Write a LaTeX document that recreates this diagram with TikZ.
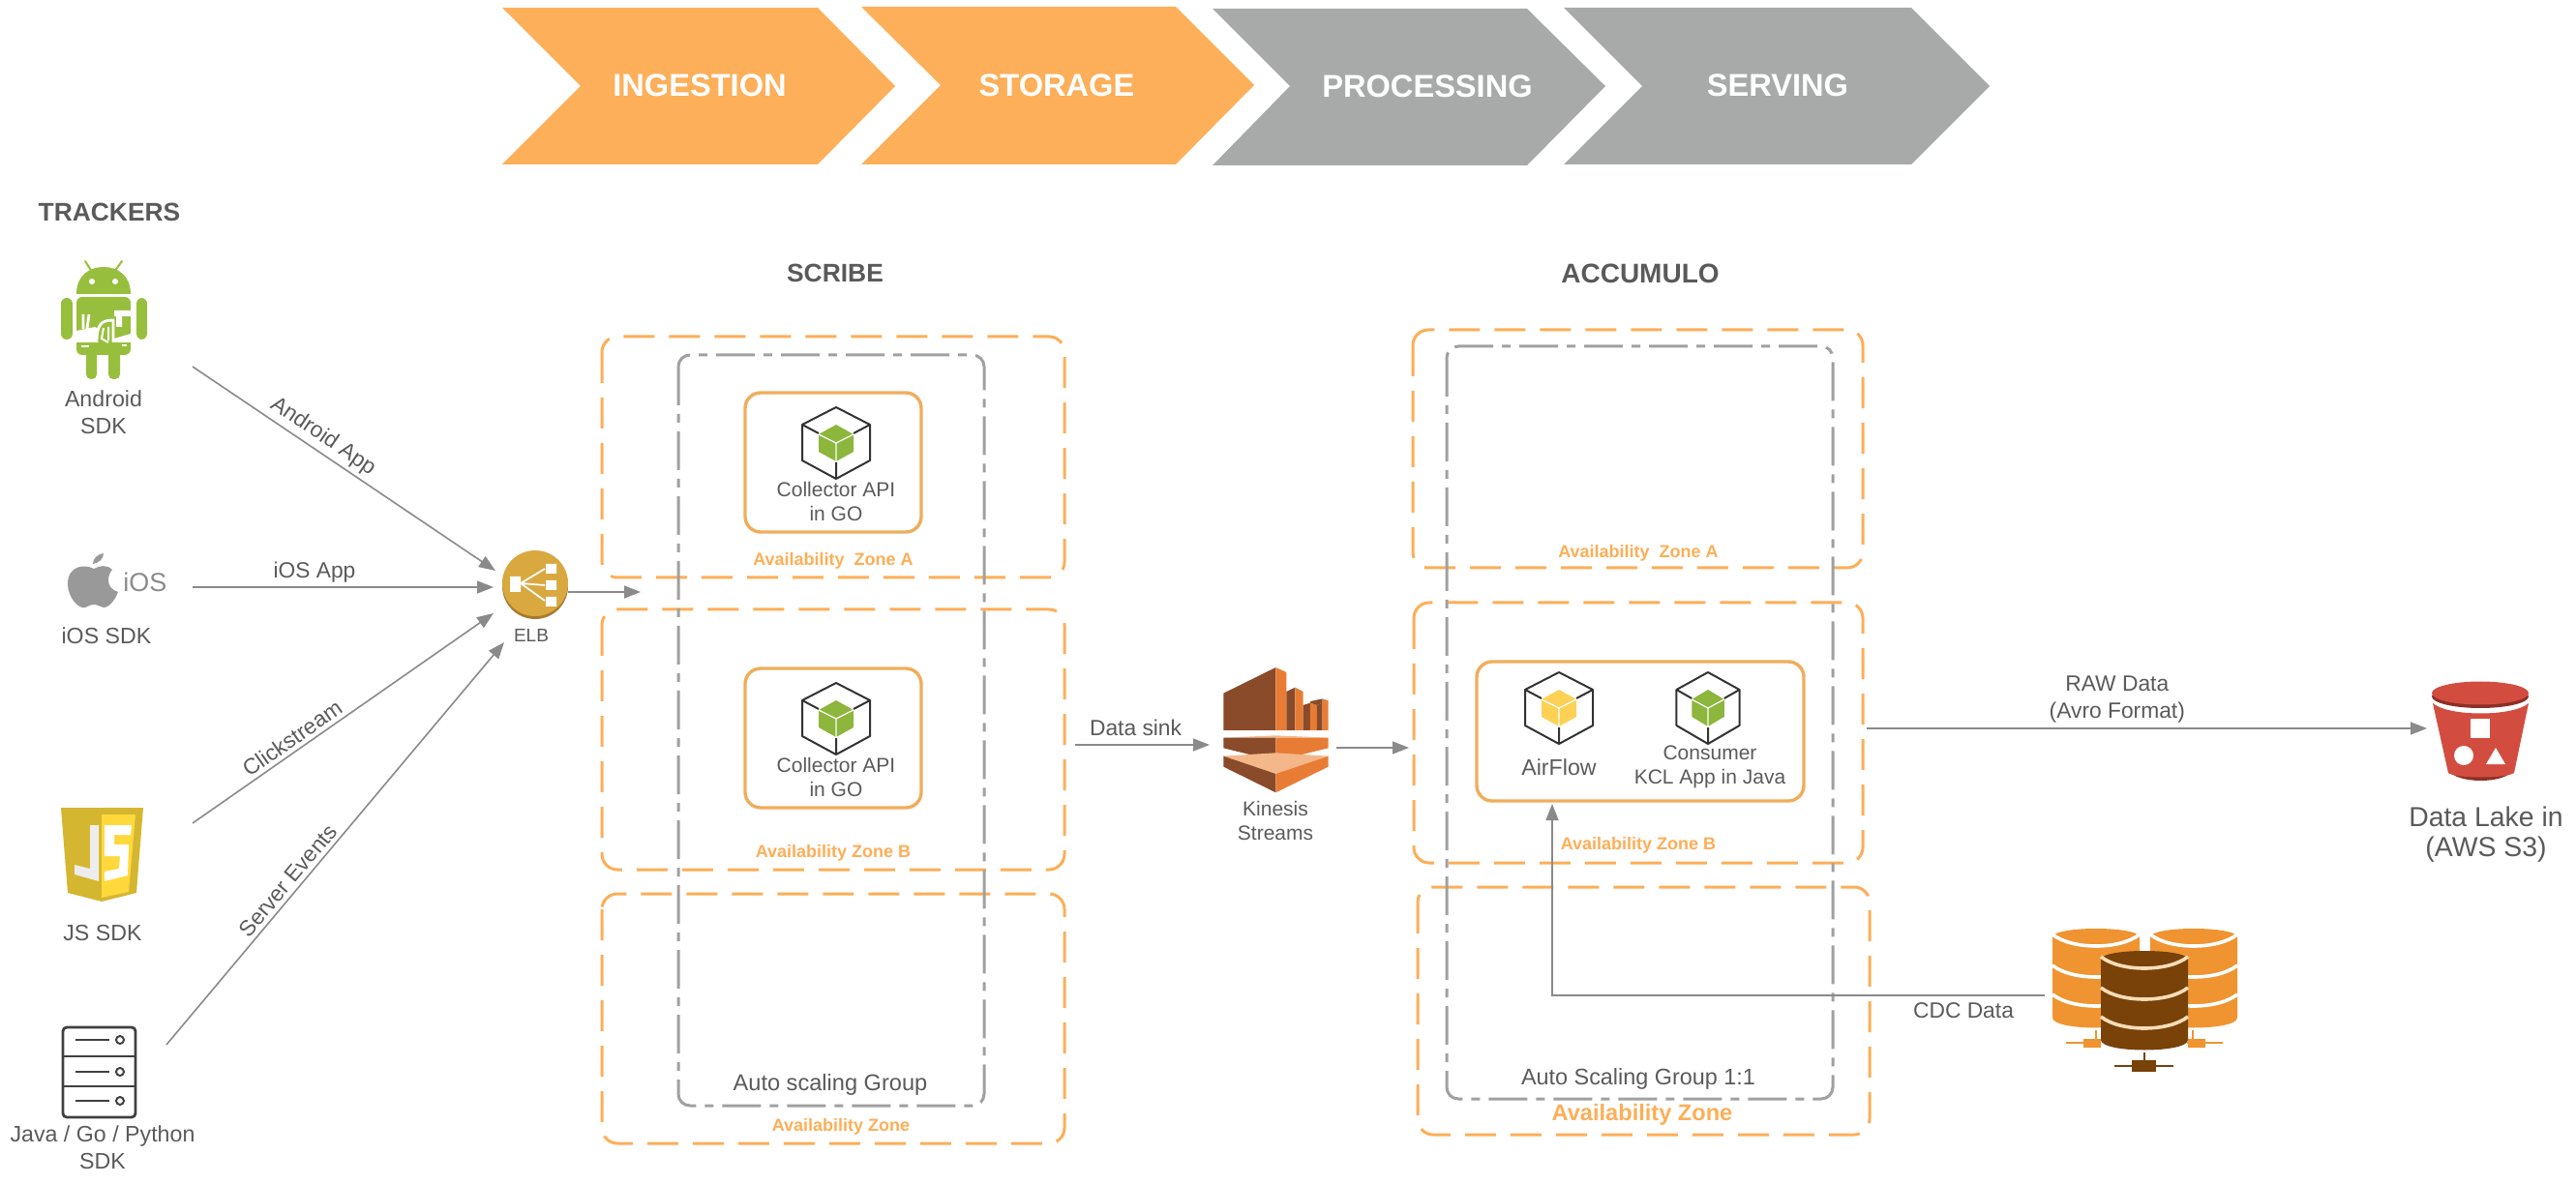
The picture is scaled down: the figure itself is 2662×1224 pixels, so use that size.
\documentclass[tikz,border=0pt]{standalone}
\usepackage{fontspec}
\setmainfont{Liberation Sans}
\usetikzlibrary{arrows.meta}

\definecolor{chevOrange}{HTML}{FDAF5A}
\definecolor{chevGray}{HTML}{A7AAA8}
\definecolor{zoneOrange}{HTML}{FDAE57}
\definecolor{boxOrange}{HTML}{F0AD5C}
\definecolor{groupGray}{HTML}{A0A0A0}
\definecolor{textGray}{HTML}{5A5A5A}
\definecolor{flowGray}{HTML}{8A8A8A}
\definecolor{cubeGreen}{HTML}{8CB63C}
\definecolor{cubeYellow}{HTML}{FDD154}
\definecolor{androidGreen}{HTML}{97BF3D}
\definecolor{jsDark}{HTML}{D5B631}
\definecolor{jsLight}{HTML}{FFD93B}
\definecolor{elbGold}{HTML}{D9A83F}
\definecolor{elbDark}{HTML}{A67A2E}
\definecolor{kinDark}{HTML}{8A4B2A}
\definecolor{kinOrange}{HTML}{E87C35}
\definecolor{kinLight}{HTML}{F4B78A}
\definecolor{bucketRed}{HTML}{D24D3F}
\definecolor{bucketDark}{HTML}{8C3027}
\definecolor{dbOrange}{HTML}{EF9431}
\definecolor{dbBrown}{HTML}{784208}
\definecolor{dbBand}{HTML}{FBDCB8}

\begin{document}
\begin{tikzpicture}[
            x=0.5pt, y=-0.5pt,
            >={Triangle[length=8.5pt,width=6.5pt]},
            flow/.style={draw=flowGray, line width=0.8pt, ->},
            chev orange/.style={fill=chevOrange},
            chev gray/.style={fill=chevGray},
            chev label/.style={text=white, inner sep=0pt, font=\fontsize{16.3}{18}\selectfont\bfseries},
            zone/.style={draw=zoneOrange, line width=1.5pt, rounded corners=8pt, dash pattern=on 16pt off 7.5pt},
            autogroup/.style={draw=groupGray, line width=1.5pt, rounded corners=6pt, dash pattern=on 20pt off 4.5pt on 4.5pt off 4.5pt},
            appbox/.style={draw=boxOrange, line width=1.7pt, rounded corners=8pt},
            title label/.style={text=textGray, inner sep=0pt, font=\fontsize{13.2}{16}\selectfont\bfseries},
            zone label/.style={text=zoneOrange, inner sep=0pt, font=\fontsize{9}{11}\selectfont\bfseries},
            icon label/.style={text=textGray, inner sep=0pt, align=center, font=\fontsize{11.6}{14}\selectfont},
            app label/.style={text=textGray, inner sep=0pt, align=center, font=\fontsize{10.5}{12.5}\selectfont},
            flow label/.style={text=textGray, inner sep=2pt, align=center, font=\fontsize{11.4}{14}\selectfont},
            pics/appcube/.style={code={
                \draw[draw=black!80, line width=1pt, line join=round]
                    (0,-37) -- (35,-19) -- (35,18) -- (0,37) -- (-35,18) -- (-35,-19) -- cycle;
                \draw[draw=black!80, line width=1pt] (-35,-19) -- (-18,-10) (35,-19) -- (18,-10) (0,37) -- (0,20);
                \fill[#1] (0,-19) -- (18,-9) -- (18,9) -- (0,19) -- (-18,9) -- (-18,-9) -- cycle;
                \draw[white, line width=0.6pt] (-18,-9) -- (0,0) -- (18,-9) (0,0) -- (0,19);
            }},
        ]
        \useasboundingbox (0,0) rectangle (2662,1224);

        \fill[chev orange] (519,8) -- (845,8) -- (925,89) -- (845,170) -- (519,170) -- (600,89) -- cycle;
        \fill[chev orange] (890,7) -- (1215,7) -- (1296,88) -- (1215,170) -- (890,170) -- (972,88) -- cycle;
        \fill[chev gray] (1253,9) -- (1578,9) -- (1659,89) -- (1578,171) -- (1253,171) -- (1333,89) -- cycle;
        \fill[chev gray] (1616,8) -- (1975,8) -- (2056,89) -- (1975,170) -- (1616,170) -- (1697,89) -- cycle;
        \node[chev label] (ingestion) at (723,88) {INGESTION};
        \node[chev label] (storage) at (1092,88) {STORAGE};
        \node[chev label] (processing) at (1475,89) {PROCESSING};
        \node[chev label] (serving) at (1837,88) {SERVING};

        \node[title label] (trackers) at (113,219) {TRACKERS};
        \node[title label] (scribe) at (863,282) {SCRIBE};
        \node[title label, font=\fontsize{14}{16}\selectfont\bfseries] (accumulo) at (1695,283) {ACCUMULO};

        \draw[androidGreen, line width=1pt, line cap=round] (88,270) -- (95,281) (126,270) -- (118,281);
        \fill[androidGreen] (79,304) .. controls (79,285) and (92,276) .. (107,276) .. controls (122,276) and (135,285) .. (135,304) -- cycle;
        \fill[white] (95,291) circle (3) (119,291) circle (3);
        \fill[androidGreen, rounded corners=3pt] (79,307) -- (135,307) -- (135,367) -- (79,367) -- cycle;
        \fill[androidGreen, rounded corners=3pt] (63,308) rectangle (75,351);
        \fill[androidGreen, rounded corners=3pt] (141,308) rectangle (152,351);
        \fill[androidGreen, rounded corners=2.5pt] (89,360) rectangle (100,392);
        \fill[androidGreen, rounded corners=2.5pt] (112,360) rectangle (124,392);
        \fill[white] (79,342) -- (98,338) -- (118,350) -- (135,345) -- (135,354) -- (79,354) -- cycle;
        \draw[white, line width=1.4pt] (86,325) -- (86,340) (92,325) -- (90,340);
        \fill[white] (118,321) rectangle (135,327) (120,327) rectangle (126,338);
        \fill[androidGreen] (100,354) .. controls (100,336) and (104,331) .. (117,331) -- (117,354) -- cycle;
        \draw[white, line width=1.4pt] (100,354) .. controls (100,336) and (104,331) .. (117,331) -- (117,354);
        \draw[white, line width=1pt] (107,339) -- (105,350) -- (112,354) (112,338) -- (112,352);
        \draw[white, line width=1pt] (84,358) -- (92,358) (126,357) -- (131,357);
        \node[icon label] (androidSdk) at (107,426) {Android\\SDK};

        \fill[black!40] (96,583) .. controls (96,577) and (101,573) .. (107,572) .. controls (107,578) and (102,582) .. (96,583) -- cycle;
        \fill[black!40] (97,588) .. controls (88,583) and (70,584) .. (70,604) .. controls (70,617) and (81,630) .. (88,628)
            .. controls (91,627) and (93,625) .. (97,625) .. controls (101,625) and (103,627) .. (107,628)
            .. controls (113,628) and (119,620) .. (122,612) .. controls (116,610) and (112,606) .. (112,600)
            .. controls (112,595) and (114,591) .. (116,589) .. controls (110,583) and (103,585) .. (97,588) -- cycle;
        \node[text=black!45, inner sep=0pt, font=\fontsize{13.5}{16}\selectfont] (iosMark) at (150,602) {iOS};
        \node[icon label] (iosSdk) at (110,657) {iOS SDK};

        \fill[jsDark] (63,835) -- (148,835) -- (141,923) -- (105,932) -- (70,923) -- cycle;
        \fill[jsLight] (105,842) -- (140,842) -- (133,922) -- (105,928) -- cycle;
        \fill[black!7] (93,853) -- (102,853) -- (102,911) -- (77,904) -- (77,894) -- (93,898) -- cycle;
        \fill[white] (108,853) -- (136,853) -- (135,863) -- (118,863) -- (118,873) -- (133,873) -- (132,905) -- (108,911) -- (108,901) -- (123,898) -- (124,885) -- (108,885) -- cycle;
        \node[icon label] (jsSdk) at (106,965) {JS SDK};

        \draw[black!75, line width=1.4pt, rounded corners=2pt] (65,1062) rectangle (140,1155);
        \draw[black!75, line width=1.4pt] (65,1092) -- (140,1092) (65,1123) -- (140,1123);
        \foreach \ry in {1075,1108,1138} {
            \draw[black!75, line width=1pt] (78,\ry) -- (113,\ry);
            \draw[black!75, line width=1pt] (124,\ry) circle (4);
        }
        \node[icon label] (serverSdk) at (106,1186) {Java / Go / Python\\SDK};

        \fill[elbDark] (553,606) circle (34);
        \fill[elbGold] (553,603) circle (34);
        \fill[white] (527,596) rectangle (538,612) (564,583) rectangle (575,593) (564,600) rectangle (575,610) (564,617) rectangle (575,627);
        \draw[white, line width=0.9pt] (538,603) -- (563,588) (538,603) -- (563,605) (538,603) -- (563,621);
        \node[text=textGray, inner sep=0pt, font=\fontsize{9.5}{12}\selectfont] (elb) at (549,657) {ELB};

        \draw[zone] (622,348) rectangle (1100,597);
        \draw[zone] (622,630) rectangle (1100,899);
        \draw[zone] (622,924) rectangle (1100,1182);
        \draw[autogroup] (701,367) rectangle (1017,1143);
        \foreach \by in {406,691} {
            \draw[appbox] (770,\by) rectangle ++(182,144);
            \path ({864},{\by+52}) pic {appcube=cubeGreen};
        }
        \node[app label] (collectorA) at (864,518) {Collector API\\in GO};
        \node[app label] (collectorB) at (864,803) {Collector API\\in GO};
        \node[zone label] (scribeZoneA) at (861,580) {Availability\ \ Zone A};
        \node[zone label] (scribeZoneB) at (861,882) {Availability Zone B};
        \node[zone label] (scribeZoneC) at (869,1165) {Availability Zone};
        \node[text=textGray, inner sep=0pt, font=\fontsize{11.8}{14}\selectfont] (scribeGroup) at (858,1121) {Auto scaling Group};

        \begin{scope}[shift={(1180,660)}, scale=0.3333]
            \fill[kinDark] (253,170) -- (415,90) -- (415,285) -- (253,285) -- cycle;
            \fill[kinOrange] (415,90) -- (448,105) -- (448,285) -- (415,285) -- cycle;
            \fill[kinDark] (448,165) -- (475,152) -- (475,285) -- (448,285) -- cycle;
            \fill[kinOrange] (475,152) -- (500,165) -- (500,285) -- (475,285) -- cycle;
            \fill[kinDark] (500,207) -- (522,200) -- (522,285) -- (500,285) -- cycle;
            \fill[kinOrange] (522,200) -- (543,207) -- (543,285) -- (522,285) -- cycle;
            \fill[kinDark] (523,195) -- (560,187) -- (560,200) -- (543,207) -- (522,200) -- cycle;
            \fill[kinDark] (543,207) -- (560,200) -- (560,285) -- (543,285) -- cycle;
            \fill[kinOrange] (560,187) -- (578,193) -- (578,285) -- (560,285) -- cycle;
            \fill[kinLight] (253,308) -- (415,301) -- (578,308) -- cycle;
            \fill[kinDark] (253,308) -- (415,308) -- (415,380) -- (253,340) -- cycle;
            \fill[kinOrange] (578,308) -- (415,308) -- (415,380) -- (578,340) -- cycle;
            \fill[kinLight] (253,365) -- (415,355) -- (578,365) -- (415,420) -- cycle;
            \fill[kinDark] (253,365) -- (415,420) -- (415,478) -- (253,398) -- cycle;
            \fill[kinOrange] (578,365) -- (415,420) -- (415,478) -- (578,398) -- cycle;
        \end{scope}
        \node[app label] (kinesis) at (1318,848) {Kinesis\\Streams};

        \draw[zone] (1460,341) rectangle (1925,587);
        \draw[zone] (1461,623) rectangle (1925,892);
        \draw[zone] (1465,917) rectangle (1932,1173);
        \draw[autogroup] (1495,358) rectangle (1894,1136);
        \draw[appbox] (1526,684) rectangle (1864,828);
        \path (1611,732) pic {appcube=cubeYellow};
        \path (1765,732) pic[xscale=0.93] {appcube=cubeGreen};
        \node[app label] (airflow) at (1611,793) {\fontsize{11.6}{14}\selectfont AirFlow};
        \node[app label] (consumer) at (1767,793) {Consumer\\KCL App in Java};
        \node[zone label] (accumZoneA) at (1693,572) {Availability\ \ Zone A};
        \node[zone label] (accumZoneB) at (1693,874) {Availability Zone B};
        \node[zone label, font=\fontsize{11.8}{14}\selectfont\bfseries] (accumZoneC) at (1697,1152) {Availability Zone};
        \node[text=textGray, inner sep=0pt, font=\fontsize{11.7}{14}\selectfont] (accumGroup) at (1693,1115) {Auto Scaling Group 1:1};

        \fill[bucketDark] (2530,795) .. controls (2535,811) and (2592,811) .. (2597,795) -- cycle;
        \fill[bucketRed] (2514,727) .. controls (2530,741) and (2597,741) .. (2613,727) -- (2598,799) .. controls (2590,805) and (2537,805) .. (2530,799) -- cycle;
        \fill[bucketDark] (2563,720) ellipse [x radius=50, y radius=12];
        \fill[bucketRed] (2563,716.5) ellipse [x radius=50, y radius=12];
        \fill[white] (2553,743) rectangle (2573,763);
        \fill[white] (2546,781) circle (10);
        \fill[white] (2579,773) -- (2589,790) -- (2569,790) -- cycle;
        \node[text=textGray, inner sep=0pt, align=center, font=\fontsize{14.2}{15.5}\selectfont] (dataLake) at (2569,863) {Data Lake in\\(AWS S3)};

        \draw[dbOrange, line width=1pt] (2135,1078) -- (2171,1078) (2166,1065) -- (2166,1074) (2260,1078) -- (2297,1078) (2266,1065) -- (2266,1074);
        \fill[dbOrange] (2153,1074) rectangle (2171,1083) (2261,1074) rectangle (2279,1083);
        \foreach \cx/\cy/\bodycol/\bandcol in {2166/960/dbOrange/white, 2267/960/dbOrange/white, 2216/983/dbBrown/dbBand} {
            \begin{scope}[shift={(\cx,\cy)}]
                \fill[\bodycol] (-45,9) .. controls (-45,-3) and (45,-3) .. (45,9) -- (45,92) .. controls (45,106) and (-45,106) .. (-45,92) -- cycle;
                \foreach \by in {6,38,68} {
                    \draw[\bandcol, line width=1.8pt] (-45,\by) .. controls (-25,{\by+16}) and (25,{\by+16}) .. (45,\by);
                }
            \end{scope}
        }
        \draw[dbBrown, line width=1pt] (2185,1102) -- (2246,1102) (2216,1088) -- (2216,1096);
        \fill[dbBrown] (2203,1096) rectangle (2228,1108);

        \coordinate (androidOut) at (199,379);
        \coordinate (iosOut) at (199,607);
        \coordinate (jsOut) at (199,851);
        \coordinate (serverOut) at (172,1080);
        \coordinate (elbInA) at (512,590);
        \coordinate (elbInB) at (510,607);
        \coordinate (elbInC) at (510,634);
        \coordinate (elbInD) at (521,664);
        \coordinate (elbOut) at (587,612);
        \coordinate (scribeIn) at (662,612);
        \coordinate (scribeOut) at (1111,770);
        \coordinate (kinesisIn) at (1250,770);
        \coordinate (kinesisOut) at (1381,773);
        \coordinate (accumIn) at (1456,773);
        \coordinate (accumOut) at (1929,753);
        \coordinate (bucketIn) at (2508,753);
        \coordinate (dbOut) at (2113,1029);
        \coordinate (airflowIn) at (1604,831);

        \draw[flow] (androidOut) -- node[flow label, pos=0.403, above, sloped] (androidApp) {Android App} (elbInA);
        \draw[flow] (iosOut) -- node[flow label, pos=0.405, above] (iosApp) {iOS App} (elbInB);
        \draw[flow] (jsOut) -- node[flow label, pos=0.355, above, sloped] (clickstream) {Clickstream} (elbInC);
        \draw[flow] (serverOut) -- node[flow label, pos=0.388, above, sloped] (serverEvents) {Server Events} (elbInD);
        \draw[flow] (elbOut) -- (scribeIn);
        \draw[flow] (scribeOut) -- node[flow label, pos=0.45, above, inner sep=4pt] (dataSink) {Data sink} (kinesisIn);
        \draw[flow] (kinesisOut) -- (accumIn);
        \draw[flow] (accumOut) -- node[flow label, pos=0.447, above, inner sep=2.5pt] (rawData) {RAW Data\\(Avro Format)} (bucketIn);
        \draw[flow] (dbOut) -| node[flow label, pos=0.0825, below, inner sep=3.5pt] (cdcData) {CDC Data} (airflowIn);
        \end{tikzpicture}
\end{document}
